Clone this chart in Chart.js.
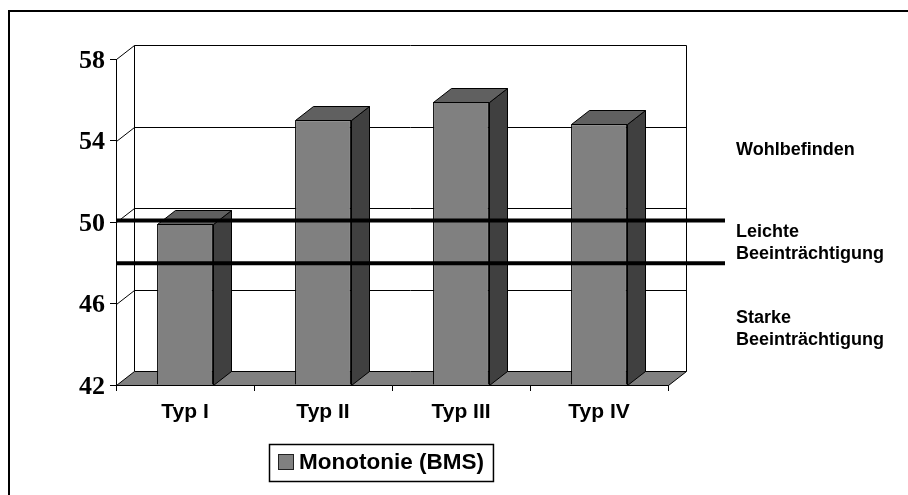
<!DOCTYPE html>
<html>
<head>
<meta charset="utf-8">
<script src="https://cdn.jsdelivr.net/npm/chart.js@4/dist/chart.umd.min.js"></script>
<style>
  html, body { margin: 0; padding: 0; background: #fff; }
  #wrap { width: 908px; height: 495px; }
</style>
</head>
<body>
<div id="wrap"><canvas id="c" width="908" height="495"></canvas></div>
<script>
// ---- data ----
const categories = ['Typ I', 'Typ II', 'Typ III', 'Typ IV'];
const monotonie = [49.9, 55.0, 55.9, 54.8];
const seriesName = 'Monotonie (BMS)';
const yMin = 42, yMax = 58, yStep = 4;
const thresholds = [50, 47.9];
const zoneTexts = [
  ['Wohlbefinden'],
  ['Leichte', 'Beeinträchtigung'],
  ['Starke', 'Beeinträchtigung']
];

// ---- look ----
const DX = 18, DY = 14;             // depth offset of the 3D box
const FRONT = '#808080', TOP = '#606060', SIDE = '#404040';
const SANS = '"Liberation Sans", Arial, sans-serif';
const SERIF = '"Liberation Serif", "Times New Roman", serif';

function poly(ctx, pts, fill) {
  ctx.beginPath();
  ctx.moveTo(pts[0][0], pts[0][1]);
  for (let i = 1; i < pts.length; i++) ctx.lineTo(pts[i][0], pts[i][1]);
  ctx.closePath();
  if (fill) { ctx.fillStyle = fill; ctx.fill(); }
  ctx.stroke();
}

const boxPlugin = {
  id: 'box3d',
  beforeDraw(chart) {
    const ctx = chart.ctx;
    ctx.save();
    ctx.fillStyle = '#fff';
    ctx.fillRect(0, 0, chart.width, chart.height);
    ctx.restore();
  },
  beforeDatasetsDraw(chart) {
    const { ctx, chartArea: a, scales: { y } } = chart;
    ctx.save();
    ctx.strokeStyle = '#000';
    ctx.lineWidth = 1;
    const L = a.left + 0.5, R = a.right + 0.5;
    // back wall grid + left wall diagonals
    for (let v = yMin + yStep; v <= yMax; v += yStep) {
      const yf = Math.round(y.getPixelForValue(v)) + 0.5;
      ctx.beginPath();
      ctx.moveTo(L, yf);
      ctx.lineTo(L + DX, yf - DY);
      ctx.lineTo(R + DX, yf - DY);
      ctx.stroke();
    }
    // back wall vertical edges
    const topB = Math.round(y.getPixelForValue(yMax)) + 0.5 - DY;
    const botB = Math.round(a.bottom) + 0.5 - DY;
    ctx.beginPath();
    ctx.moveTo(L + DX, topB); ctx.lineTo(L + DX, botB);
    ctx.moveTo(R + DX, topB); ctx.lineTo(R + DX, botB);
    ctx.stroke();
    // floor
    const B = Math.round(a.bottom) + 0.5;
    poly(ctx, [[L, B], [R, B], [R + DX, B - DY], [L + DX, B - DY]], FRONT);
    ctx.restore();
  },
  afterDatasetsDraw(chart, args, opts) {
    const { ctx, chartArea: a, scales: { y } } = chart;
    ctx.save();
    ctx.strokeStyle = '#000';
    ctx.lineWidth = 1;
    const meta = chart.getDatasetMeta(0);
    meta.data.forEach(bar => {
      const p = bar.getProps(['x', 'y', 'width', 'base'], true);
      const l = Math.round(p.x - p.width / 2) + 0.5;
      const r = Math.round(p.x + p.width / 2) + 0.5;
      const t = Math.round(p.y) + 0.5;
      const b = Math.round(Math.min(p.base, a.bottom)) + 0.5;
      poly(ctx, [[r, t], [r + DX, t - DY], [r + DX, b - DY], [r, b]], SIDE);
      poly(ctx, [[l, t], [l + DX, t - DY], [r + DX, t - DY], [r, t]], TOP);
    });
    // threshold lines
    ctx.lineWidth = 4;
    thresholds.forEach(v => {
      const yy = y.getPixelForValue(v) - 1.5;
      ctx.beginPath();
      ctx.moveTo(a.left + 1, yy);
      ctx.lineTo(a.right + opts.lineExtend, yy);
      ctx.stroke();
    });
    ctx.restore();
  },
  afterDraw(chart, args, opts) {
    const ctx = chart.ctx;
    ctx.save();
    // zone captions
    ctx.fillStyle = '#000';
    ctx.font = 'bold 18px ' + SANS;
    ctx.textAlign = 'left';
    ctx.textBaseline = 'alphabetic';
    zoneTexts.forEach((lines, i) => {
      lines.forEach((txt, j) => {
        ctx.fillText(txt, opts.zoneX, opts.zoneY[i] + j * opts.zoneLine);
      });
    });
    // legend
    const ds = chart.data.datasets[0];
    ctx.font = 'bold 22.5px ' + SANS;
    const tw = ctx.measureText(ds.label).width;
    const sw = 15, gap = 6, padX = 9;
    const w = padX + sw + gap + tw + padX;
    const h = 37;
    const lx = Math.round(opts.legendCx - w / 2), ly = Math.round(opts.legendCy - h / 2);
    ctx.strokeStyle = '#000';
    ctx.lineWidth = 1.5;
    ctx.strokeRect(lx + 0.5, ly + 0.5, w, h);
    ctx.lineWidth = 1;
    ctx.fillStyle = ds.backgroundColor;
    ctx.fillRect(lx + padX + 0.5, opts.legendCy - sw / 2, sw, sw);
    ctx.strokeStyle = '#222';
    ctx.strokeRect(lx + padX + 0.5, opts.legendCy - sw / 2, sw, sw);
    ctx.fillStyle = '#000';
    ctx.textBaseline = 'middle';
    ctx.fillText(ds.label, lx + padX + sw + gap, opts.legendCy + 1);
    // outer frame
    ctx.strokeStyle = '#000';
    ctx.lineWidth = 2;
    ctx.beginPath();
    ctx.moveTo(9, chart.height);
    ctx.lineTo(9, 11);
    ctx.lineTo(chart.width, 11);
    ctx.stroke();
    ctx.restore();
  }
};

new Chart(document.getElementById('c'), {
  type: 'bar',
  data: {
    labels: categories,
    datasets: [{
      label: seriesName,
      data: monotonie,
      base: yMin,
      backgroundColor: FRONT,
      borderColor: '#000',
      borderWidth: 1,
      barPercentage: 1,
      categoryPercentage: 0.405
    }]
  },
  options: {
    responsive: false,
    animation: false,
    devicePixelRatio: 1,
    layout: { padding: { top: 59, right: 240, bottom: 0, left: 0 } },
    plugins: {
      legend: { display: false },
      tooltip: { enabled: false },
      box3d: {
        lineExtend: 57,
        zoneX: 736,
        zoneY: [155, 237, 323],
        zoneLine: 22,
        legendCx: 381,
        legendCy: 462
      }
    },
    scales: {
      x: {
        offset: true,
        grid: { display: true, drawOnChartArea: false, drawTicks: true, tickLength: 6, color: '#000', offset: true },
        border: { display: true, color: '#000', width: 1 },
        ticks: { color: '#000', padding: 9, maxRotation: 0, font: { family: SANS, size: 21, weight: 'bold' } },
        afterFit(s) { s.height = 110; }
      },
      y: {
        min: yMin,
        max: yMax,
        grid: { display: true, drawOnChartArea: false, drawTicks: true, tickLength: 6, color: '#000' },
        border: { display: true, color: '#000', width: 1 },
        ticks: { stepSize: yStep, color: '#000', padding: 5, labelOffset: 2, font: { family: SERIF, size: 26, weight: 'bold' } },
        afterFit(s) { s.width = 116; }
      }
    }
  },
  plugins: [boxPlugin]
});
</script>
</body>
</html>
